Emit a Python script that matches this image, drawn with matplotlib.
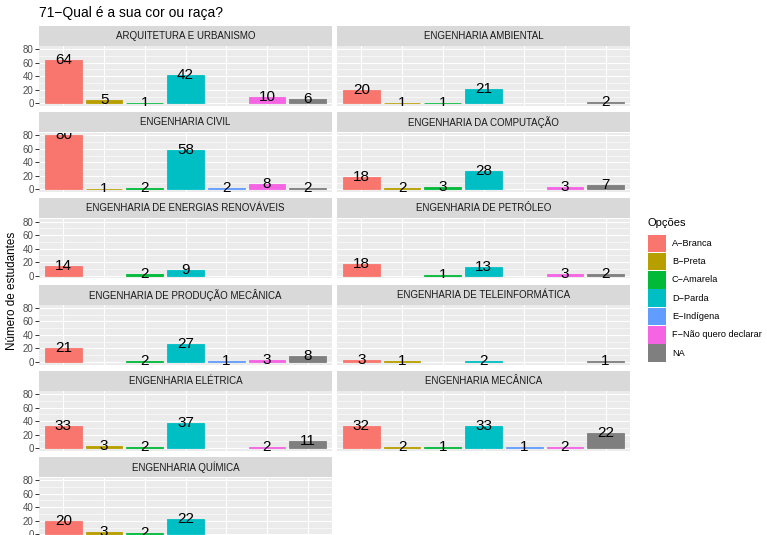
import numpy as np
import matplotlib
matplotlib.use("Agg")
import matplotlib.pyplot as plt
from matplotlib.patches import Rectangle

plt.rcParams['font.family'] = ['Liberation Sans', 'DejaVu Sans']

# opcoes de resposta (eixo x) e cores da escala
opcoes = ["A−Branca", "B−Preta", "C−Amarela", "D−Parda", "E−Indígena",
          "F−Não quero declarar", "NA"]
cores = ["#F8766D", "#B79F00", "#00BA38", "#00BFC4", "#619CFF", "#F564E3", "#7F7F7F"]

cursos = ["ARQUITETURA E URBANISMO", "ENGENHARIA AMBIENTAL",
          "ENGENHARIA CIVIL", "ENGENHARIA DA COMPUTAÇÃO",
          "ENGENHARIA DE ENERGIAS RENOVÁVEIS", "ENGENHARIA DE PETRÓLEO",
          "ENGENHARIA DE PRODUÇÃO MECÂNICA", "ENGENHARIA DE TELEINFORMÁTICA",
          "ENGENHARIA ELÉTRICA", "ENGENHARIA MECÂNICA",
          "ENGENHARIA QUÍMICA"]

# contagens por curso, na ordem de opcoes (None = sem resposta)
arquitetura = [64, 5, 1, 42, None, 10, 6]
ambiental = [20, 1, 1, 21, None, None, 2]
civil = [80, 1, 2, 58, 2, 8, 2]
computacao = [18, 2, 3, 28, None, 3, 7]
renovaveis = [14, None, 2, 9, None, None, None]
petroleo = [18, None, 1, 13, None, 3, 2]
producao = [21, None, 2, 27, 1, 3, 8]
teleinformatica = [3, 1, None, 2, None, None, 1]
eletrica = [33, 3, 2, 37, None, 2, 11]
mecanica = [32, 2, 1, 33, 1, 2, 22]
quimica = [20, 3, 2, 22, None, None, None]

contagens = [arquitetura, ambiental, civil, computacao, renovaveis, petroleo,
             producao, teleinformatica, eletrica, mecanica, quimica]

W, H = 767, 535
fig = plt.figure(figsize=(W / 100, H / 100), dpi=100)


def caixa(x0, y0, x1, y1):  # pixels (origem em cima) -> fracao da figura
    return [x0 / W, 1 - y1 / H, (x1 - x0) / W, (y1 - y0) / H]


colunas = [(39, 332), (337, 630)]
passo = 86.2

for k, (curso, valores) in enumerate(zip(cursos, contagens)):
    lin, col = divmod(k, 2)
    x0, x1 = colunas[col]
    topo = 26 + lin * passo

    # faixa cinza com o nome do curso
    fx = fig.add_axes(caixa(x0, topo, x1, topo + 20))
    fx.set_facecolor("#D9D9D9")
    for s in fx.spines.values():
        s.set_visible(False)
    fx.set_xticks([])
    fx.set_yticks([])
    fx.text(0.5, 0.5, curso, ha='center', va='center', fontsize=7.0,
            color="#1A1A1A", transform=fx.transAxes)

    ax = fig.add_axes(caixa(x0, topo + 20.5, x1, topo + 80))
    ax.set_facecolor("#EBEBEB")
    for s in ax.spines.values():
        s.set_visible(False)
    ax.set_xlim(0.4, 7.6)
    ax.set_ylim(-4, 84)

    # grade estilo ggplot
    for y in [10, 30, 50, 70]:
        ax.axhline(y, color='white', lw=0.4, zorder=0.5)
    for y in [0, 20, 40, 60, 80]:
        ax.axhline(y, color='white', lw=0.8, zorder=0.6)
    for x in range(1, 8):
        ax.axvline(x, color='white', lw=0.8, zorder=0.6)

    for i, v in enumerate(valores):
        if v is None:
            continue
        ax.bar(i + 1, v, width=0.9, color=cores[i], edgecolor=cores[i],
               linewidth=0.6, zorder=2)
        ax.text(i + 1, v, str(v), ha='center', va='center', fontsize=11,
                color='black', zorder=3, clip_on=True)

    ax.set_xticks([])
    if col == 0:
        ax.set_yticks([0, 20, 40, 60, 80])
        ax.tick_params(axis='y', length=2.6, width=0.7, color="#333333",
                       labelcolor="#4D4D4D", labelsize=7, pad=1.2)
    else:
        ax.set_yticks([])

fig.text(39 / W, 1 - 17 / H, "71−Qual é a sua cor ou raça?", fontsize=10,
         ha='left', va='baseline', color='black')
fig.text(12 / W, 1 - 291 / H, "Número de estudantes", rotation=90,
         fontsize=8.4, ha='center', va='center', color='black')

# legenda
fig.text(647 / W, 1 - 223 / H, "Opções", fontsize=8, ha='left', va='center')
for i, (nome, cor) in enumerate(zip(opcoes, cores)):
    yt = 234.5 + i * 18.33
    fig.patches.append(Rectangle((648 / W, 1 - (yt + 17.5) / H), 17.5 / W, 17.5 / H,
                                 transform=fig.transFigure, facecolor=cor,
                                 edgecolor='none'))
    fig.text(672 / W, 1 - (yt + 8.8) / H, nome, fontsize=6.6, ha='left',
             va='center', color='black')

fig.savefig("out.png", dpi=100)
